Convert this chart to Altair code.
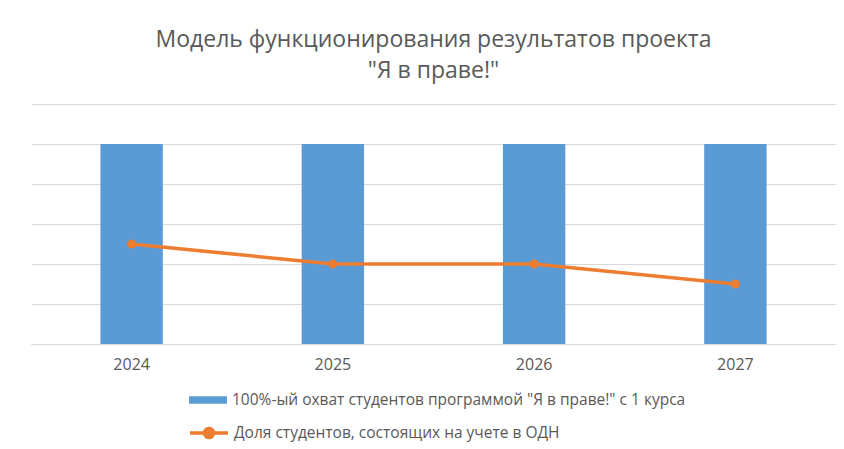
import altair as alt
import pandas as pd

years = ["2024", "2025", "2026", "2027"]
bar_values = [5, 5, 5, 5]
line_values = [2.5, 2, 2, 1.5]
bar_name = '100%-ый охват студентов программой "Я в праве!" с 1 курса'
line_name = "Доля студентов, состоящих на учете в ОДН"
title_lines = ["Модель функционирования результатов проекта", '"Я в праве!"']
grid_values = [0, 1, 2, 3, 4, 5, 6]

bar_df = pd.DataFrame({"year": years, "value": bar_values, "series": [bar_name] * 4})
line_df = pd.DataFrame({"year": years, "value": line_values, "series": [line_name] * 4})

FONT = "Open Sans"
GRAY = "#595959"
BLUE = "#5B9BD5"
ORANGE = "#ED7D31"

x = alt.X("year:N", sort=years, title=None,
          scale=alt.Scale(paddingInner=0.69, paddingOuter=0.345),
          axis=alt.Axis(labelAngle=0, labelFont=FONT, labelFontSize=16, labelColor=GRAY,
                        ticks=False, domain=True, domainColor="#D9D9D9", labelPadding=12, grid=False))
y = alt.Y("value:Q", title=None, scale=alt.Scale(domain=[0, 6], nice=False),
          axis=alt.Axis(labels=False, ticks=False, domain=False, grid=True,
                        gridColor="#D9D9D9", gridWidth=1, values=grid_values))

bar_sym = "M-1,-0.2H1V0.2H-1Z"
line_sym = "M-1,0H1M0.24,0A0.24,0.24,0,1,1,-0.24,0A0.24,0.24,0,1,1,0.24,0Z"

bars = alt.Chart(bar_df).mark_bar().encode(
    x=x, y=y,
    fill=alt.Fill("series:N", scale=alt.Scale(domain=[bar_name], range=[BLUE]),
                  legend=alt.Legend(orient="none", legendX=157, legendY=276, title=None,
                                    symbolType=bar_sym, symbolSize=1444,
                                    labelFont=FONT, labelFontSize=15.5, labelColor=GRAY,
                                    labelLimit=700, labelOffset=4)),
)

line = alt.Chart(line_df).mark_line(strokeWidth=3.5).encode(
    x=x, y=y,
    stroke=alt.Stroke("series:N", scale=alt.Scale(domain=[line_name], range=[ORANGE]),
                      legend=alt.Legend(orient="none", legendX=157, legendY=308, title=None,
                                        symbolType=line_sym, symbolSize=1444,
                                        symbolStrokeWidth=3.5, symbolFillColor=ORANGE,
                                        labelFont=FONT, labelFontSize=15.5, labelColor=GRAY,
                                        labelLimit=700, labelOffset=4)),
)

points = alt.Chart(line_df).mark_circle(size=80, opacity=1, color=ORANGE).encode(x=x, y=y)

chart = alt.layer(bars, line, points).resolve_scale(fill="independent", stroke="independent").properties(
    width=805, height=240,
    padding={"left": 23, "top": 21, "right": 0, "bottom": 0},
    title=alt.TitleParams(text=title_lines, font=FONT, fontSize=23, fontWeight="normal",
                          color=GRAY, lineHeight=31, offset=21, anchor="middle"),
    background="white",
).configure_view(stroke=None)

chart.save("out.html", embed_options={"renderer": "svg", "actions": False})
